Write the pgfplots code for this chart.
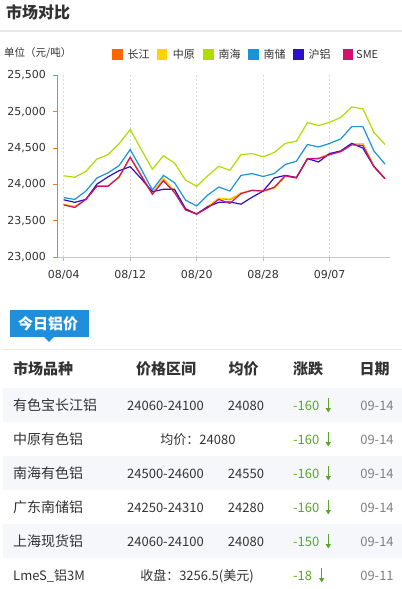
\documentclass[border=0pt]{standalone}
\usepackage{pgfplots}
\usepackage{pgfplotstable}
\pgfplotsset{compat=1.18}
\usepackage{fontspec}
\setmainfont{DejaVu Sans}
\newfontfamily\cjk{Noto Sans CJK SC}
\usetikzlibrary{arrows.meta}
\definecolor{cj}{HTML}{FF6600}
\definecolor{zy}{HTML}{FFD200}
\definecolor{nh}{HTML}{B0DC00}
\definecolor{nc}{HTML}{1B94D6}
\definecolor{hl}{HTML}{2C10C6}
\definecolor{sme}{HTML}{CF1170}
\definecolor{axor}{HTML}{F47920}
\definecolor{tabblue}{HTML}{1F8EDB}
\definecolor{rowbg}{HTML}{F5F7FA}
\definecolor{grn}{HTML}{5AA52A}
\definecolor{txt}{HTML}{333333}
\newcommand{\fs}[1]{\fontsize{#1bp}{#1bp}\selectfont}

\pgfplotstableread{
i cj zy nh nc hl sme
0 23720 23730 24120 23820 23790 23720
1 23690 23700 24100 23795 23755 23685
2 23800 23800 24180 23910 23795 23795
3 23980 23980 24350 24090 24005 23975
4 23980 23980 24410 24160 24105 23975
5 24100 24100 24560 24260 24190 24105
6 24370 24370 24755 24480 24245 24375
7 24120 24120 24480 24210 24080 24120
8 23880 23880 24210 23925 23900 23865
9 24080 24090 24395 24125 23935 24050
10 23900 23910 24295 24025 23935 23890
11 23660 23670 24060 23785 23665 23650
12 23590 23590 23975 23705 23595 23595
13 23690 23700 24120 23855 23695 23680
14 23810 23810 24250 23965 23755 23795
15 23790 23800 24195 23910 23760 23740
16 23880 23880 24410 24125 23730 23875
17 23920 23920 24425 24150 23825 23920
18 23910 23910 24380 24110 23910 23910
19 23960 23950 24440 24150 24090 23960
20 24120 24110 24565 24275 24125 24120
21 24100 24090 24595 24320 24095 24090
22 24350 24350 24850 24550 24355 24355
23 24360 24360 24810 24515 24310 24355
24 24420 24420 24855 24565 24425 24410
25 24460 24460 24920 24625 24460 24450
26 24560 24560 25065 24795 24565 24545
27 24560 24560 25040 24795 24500 24535
28 24250 24250 24715 24460 24245 24245
29 24080 24080 24550 24280 24080 24080
}\prices

\begin{document}
\begin{tikzpicture}
\useasboundingbox[fill=white] (0,0) rectangle (402bp,-589bp);

% header
\node[anchor=base west, inner sep=0, text=txt] at (6bp,-18.5bp) {\cjk\bfseries\fs{16}市场对比};
\fill[black!9] (0,-30.3bp) rectangle (402bp,-31.8bp);
\node[anchor=base west, inner sep=0, text=txt] at (4bp,-56bp) {\cjk\fs{10.5}单位（元/吨）};

% legend
\foreach \c/\sx/\tx/\t in {cj/112/127.3/长江, zy/156.7/172.7/中原, nh/203.3/218.3/南海, nc/248.3/263.3/南储, hl/293.3/308.3/沪铝, sme/342.7/356/SME}{
  \fill[\c] (\sx bp,-49.3bp) rectangle ++(10.7bp,-10.7bp);
  \node[anchor=base west, inner sep=0, text=txt] at (\tx bp,-58.5bp) {\cjk\fs{11}\t};
}

\begin{axis}[
  at={(57.5bp,-257.3bp)}, anchor=south west,
  width=332.5bp, height=182bp, scale only axis,
  xmin=-0.56, xmax=29.45, ymin=23000, ymax=25500,
  axis x line*=bottom, axis y line*=left,
  x axis line style={draw=black!22, -, line width=0.8bp},
  y axis line style={draw=axor, -, line width=0.9bp},
  xtick={0,6,12,18,24},
  xticklabels={08/04,08/12,08/20,08/28,09/07},
  ytick={23000,23500,24000,24500,25000,25500},
  scaled y ticks=false,
  /pgf/number format/fixed,
  /pgf/number format/1000 sep={,},
  /pgf/number format/assume math mode=true,
  xmajorgrids, grid style={dash pattern=on 2bp off 2bp, black!15, line width=0.6bp},
  tick align=outside, major tick length=4bp,
  x tick style={draw=black!25, line width=0.6bp},
  y tick style={draw=axor, line width=0.9bp},
  ticklabel style={font=\fs{11}, text=txt},
  xticklabel style={yshift=-5.5bp},
  yticklabel style={xshift=-4bp},
]
\addplot[cj, line width=1.2bp] table[x=i, y=cj] {\prices};
\addplot[zy, line width=1.2bp] table[x=i, y=zy] {\prices};
\addplot[nh, line width=1.2bp] table[x=i, y=nh] {\prices};
\addplot[nc, line width=1.2bp] table[x=i, y=nc] {\prices};
\addplot[hl, line width=1.2bp] table[x=i, y=hl] {\prices};
\addplot[sme, line width=1.2bp] table[x=i, y=sme] {\prices};
\end{axis}

% tab
\fill[tabblue] (10bp,-310bp) rectangle (89bp,-337bp);
\fill[tabblue] (44bp,-336.9bp) -- (54bp,-336.9bp) -- (49bp,-342bp) -- cycle;
\node[anchor=base west, inner sep=0, text=white] at (18bp,-329.5bp) {\cjk\bfseries\fs{15}今日铝价};
\fill[black!9] (3bp,-348.5bp) rectangle (402bp,-350bp);

% table header
\node[anchor=base west, inner sep=0, text=txt] at (13bp,-374.5bp) {\cjk\bfseries\fs{15}市场品种};
\node[anchor=base, inner sep=0, text=txt] at (166bp,-374.5bp) {\cjk\bfseries\fs{15}价格区间};
\node[anchor=base, inner sep=0, text=txt] at (243.5bp,-374.5bp) {\cjk\bfseries\fs{15}均价};
\node[anchor=base, inner sep=0, text=txt] at (308bp,-374.5bp) {\cjk\bfseries\fs{15}涨跌};
\node[anchor=base, inner sep=0, text=txt] at (374.5bp,-374.5bp) {\cjk\bfseries\fs{15}日期};

% row backgrounds
\fill[rowbg] (3bp,-388bp) rectangle (402bp,-422bp);
\fill[rowbg] (3bp,-456bp) rectangle (402bp,-490bp);
\fill[rowbg] (3bp,-524bp) rectangle (402bp,-558bp);

% rows
\foreach \yc/\name/\rng/\avg/\chg/\dt/\ax in {
  405/有色宝长江铝/24060-24100/24080/-160/09-14/328.3,
  473/南海有色铝/24500-24600/24550/-160/09-14/328.3,
  507/广东南储铝/24250-24310/24280/-160/09-14/328.3,
  541/上海现货铝/24060-24100/24080/-150/09-14/328.3}{
  \node[anchor=base west, inner sep=0, text=txt] at (13bp,-\yc bp-5bp) {\cjk\fs{14}\name};
  \node[anchor=base, inner sep=0, text=txt] at (165.5bp,-\yc bp-5bp) {\cjk\fs{13}\rng};
  \node[anchor=base, inner sep=0, text=txt] at (246bp,-\yc bp-5bp) {\cjk\fs{13}\avg};
  \node[anchor=base west, inner sep=0, text=grn] at (293bp,-\yc bp-5bp) {\cjk\fs{13}\chg};
  \draw[grn, line width=1bp, -{Triangle[length=4.5bp,width=5bp]}] (\ax bp,-\yc bp+7bp) -- (\ax bp,-\yc bp-7.5bp);
  \node[anchor=base, inner sep=0, text=black!50] at (377bp,-\yc bp-5bp) {\cjk\fs{13}\dt};
}
\node[anchor=base west, inner sep=0, text=txt] at (13bp,-444bp) {\cjk\fs{14}中原有色铝};
\node[anchor=base, inner sep=0, text=txt] at (198bp,-444bp) {\cjk\fs{13}均价：24080};
\node[anchor=base west, inner sep=0, text=grn] at (293bp,-444bp) {\cjk\fs{13}-160};
\draw[grn, line width=1bp, -{Triangle[length=4.5bp,width=5bp]}] (328.3bp,-432bp) -- (328.3bp,-446.5bp);
\node[anchor=base, inner sep=0, text=black!50] at (377bp,-444bp) {\cjk\fs{13}09-14};

\node[anchor=base west, inner sep=0, text=txt] at (13bp,-580bp) {\cjk\fs{13}LmeS\_铝3M};
\node[anchor=base, inner sep=0, text=txt] at (197bp,-580bp) {\cjk\fs{13}收盘：3256.5(美元)};
\node[anchor=base west, inner sep=0, text=grn] at (293bp,-580bp) {\cjk\fs{13}-18};
\draw[grn, line width=1bp, -{Triangle[length=4.5bp,width=5bp]}] (321.7bp,-568bp) -- (321.7bp,-582.5bp);
\node[anchor=base, inner sep=0, text=black!50] at (377bp,-580bp) {\cjk\fs{13}09-11};
\end{tikzpicture}
\end{document}
